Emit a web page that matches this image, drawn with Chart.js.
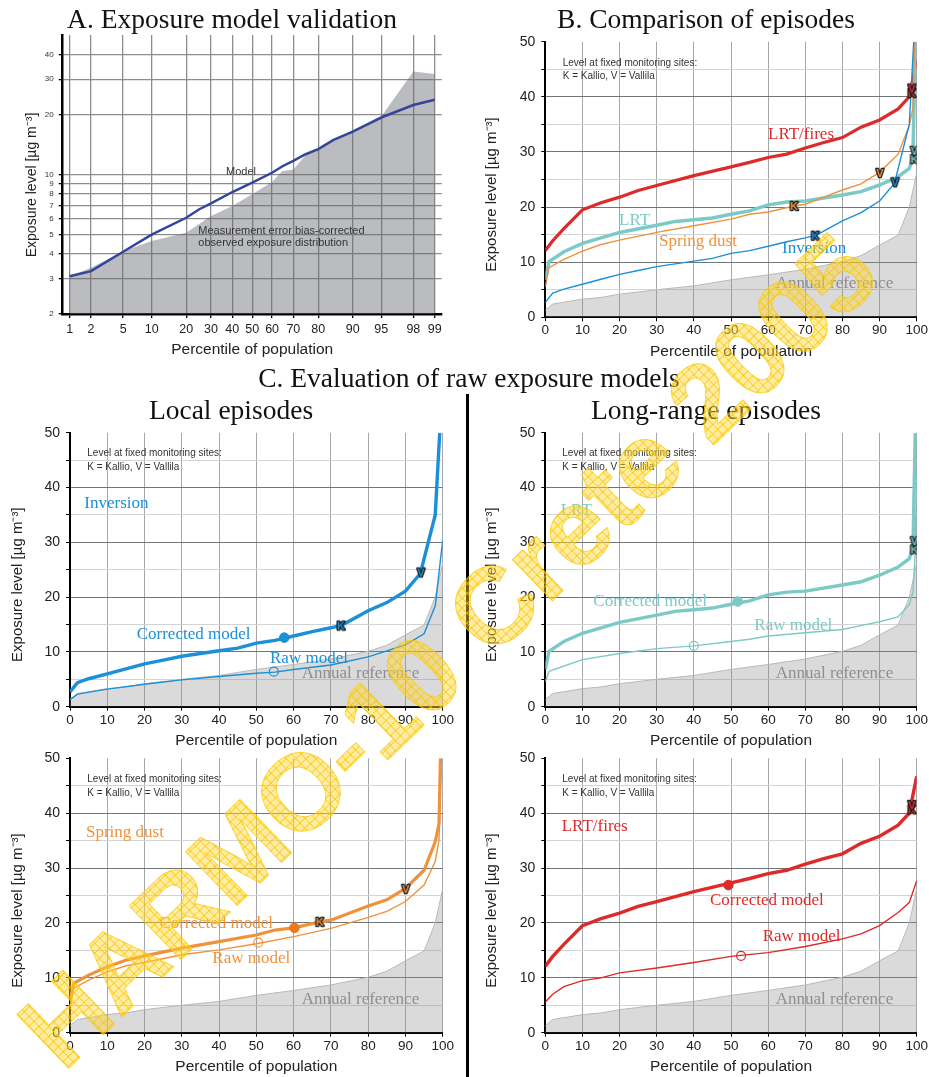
<!DOCTYPE html>
<html>
<head>
<meta charset="utf-8">
<script src="https://cdn.jsdelivr.net/npm/chart.js@4.4.1/dist/chart.umd.min.js"></script>
<style>
body{margin:0;background:#fff}
#page{position:relative;width:929px;height:1077px;overflow:hidden;background:#fff}
#page canvas{position:absolute;left:0;top:0}
.t{position:absolute;white-space:nowrap;line-height:0}
.serif{font-family:"Liberation Serif","Times New Roman",serif}
.sans{font-family:"Liberation Sans",Arial,sans-serif}
#sep{position:absolute;left:466px;top:394px;width:3px;height:683px;background:#000}
#wm{position:absolute;left:446px;top:648px;height:120px;line-height:120px;white-space:nowrap;
  font:bold 108px "Liberation Sans",Arial,sans-serif;transform:translate(-50%,-50%) rotate(-44deg);
  background:repeating-linear-gradient(0deg,rgba(250,195,0,.7) 0 1px,transparent 1px 7px),
             repeating-linear-gradient(90deg,rgba(250,195,0,.7) 0 1px,transparent 1px 7px),
             rgba(255,216,50,.45);
  -webkit-background-clip:text;background-clip:text;color:transparent;-webkit-text-fill-color:transparent;
  -webkit-text-stroke:1px rgba(250,200,0,.6)}
</style>
</head>
<body>
<div id="page">
<canvas id="cA" width="929" height="1077"></canvas>
<canvas id="cB" width="929" height="1077"></canvas>
<canvas id="cInv" width="929" height="1077"></canvas>
<canvas id="cLrt" width="929" height="1077"></canvas>
<canvas id="cDust" width="929" height="1077"></canvas>
<canvas id="cFire" width="929" height="1077"></canvas>
<div id="sep"></div>
</div>
<script>
// ---- panel A: percentiles on a probability axis, log exposure ----
const aTicks = [1, 2, 5, 10, 20, 30, 40, 50, 60, 70, 80, 90, 95, 98, 99];
const aYTicks = [2, 3, 4, 5, 6, 7, 8, 9, 10, 20, 30, 40];
const aObsPct = [1, 2, 5, 10, 20, 30, 40, 50, 60, 65, 70, 75, 80, 90, 95, 98, 99];
const aObs = [3.09, 3.41, 4.13, 4.64, 5.1, 6.19, 6.95, 7.96, 9.18, 10.4, 10.6, 12.4, 13.4, 16.6, 19.5, 32.8, 31.9];
const aModelPct = [1, 2, 5, 10, 20, 25, 30, 40, 50, 60, 65, 70, 75, 80, 85, 90, 95, 98, 99];
const aModel = [3.09, 3.28, 4.1, 5.0, 6.07, 6.7, 7.17, 8.17, 9.1, 10.2, 11.0, 11.7, 12.6, 13.4, 14.9, 16.4, 19.3, 22.3, 23.7];

// ---- annual reference ----
const annualPct = [0, 2, 10, 15, 20, 30, 40, 50, 60, 70, 80, 85, 90, 95, 98, 100];
const annualVal = [1.3, 2.4, 3.3, 3.6, 4.2, 5.0, 5.7, 6.8, 7.7, 8.7, 10.1, 11.2, 13.1, 14.9, 20.0, 26.2];

// ---- LRT/fires ----
const firePct = [0, 2, 5, 10, 15, 20, 25, 30, 40, 50, 55, 60, 65, 70, 75, 80, 85, 90, 95, 98, 100];
const fireVal = [12.1, 13.9, 16.1, 19.5, 20.8, 21.8, 23.0, 23.9, 25.7, 27.3, 28.1, 29.0, 29.6, 30.7, 31.7, 32.6, 34.5, 35.8, 37.8, 40.0, 46.7];
const fireRawPct = [0, 2, 5, 10, 15, 20, 30, 40, 50, 60, 70, 80, 85, 90, 95, 98, 100];
const fireRawVal = [5.6, 7.0, 8.4, 9.5, 10.0, 10.9, 11.8, 12.8, 13.9, 14.6, 15.7, 17.1, 18.0, 19.5, 21.9, 23.7, 27.7];
const fireSitePct = [98.7, 98.7];
const fireSiteVal = [40.7, 41.5];
const fireMedCorr = [49.3, 26.9];
const fireMedRaw = [52.7, 14.0];

// ---- LRT ----
const lrtPct = [0, 1, 5, 10, 20, 30, 35, 40, 45, 50, 55, 60, 65, 70, 80, 85, 90, 95, 98, 99, 99.6];
const lrtVal = [6.8, 10.1, 11.9, 13.4, 15.4, 16.7, 17.4, 17.7, 18.0, 18.7, 19.3, 20.4, 20.9, 21.1, 22.2, 22.8, 24.0, 25.5, 27.0, 29.1, 50];
const lrtRawPct = [0, 1, 2, 10, 20, 30, 40, 50, 55, 60, 70, 80, 85, 90, 95, 98, 99, 99.5, 100];
const lrtRawVal = [4.6, 6.4, 6.7, 8.6, 9.7, 10.6, 11.1, 11.9, 12.3, 12.9, 13.5, 14.1, 14.8, 15.5, 16.4, 18.6, 21.0, 26.8, 42.6];
const lrtSitePct = [99.4, 99.4];
const lrtSiteVal = [28.7, 30.2];
const lrtMedCorr = [51.8, 19.2];
const lrtMedRaw = [40, 11.1];

// ---- spring dust ----
const dustPct = [0, 1, 5, 10, 15, 20, 30, 40, 50, 55, 60, 67, 70, 80, 85, 90, 95, 98, 99, 99.4];
const dustVal = [5.5, 9.0, 10.5, 12.0, 13.2, 14.0, 15.4, 16.6, 17.8, 18.7, 19.1, 20.2, 20.5, 23.1, 24.2, 26.3, 29.6, 34.8, 38.0, 50];
const dustRawPct = [0, 1, 5, 10, 15, 20, 30, 40, 50, 60, 70, 80, 85, 90, 95, 98, 99, 99.6];
const dustRawVal = [4.7, 8.1, 9.6, 11.1, 12.2, 12.8, 14.2, 15.1, 16.2, 17.5, 19.0, 21.0, 22.1, 23.9, 26.9, 31.2, 35.1, 48];
const dustSitePct = [67, 90.1];
const dustSiteVal = [20.2, 26.2];
const dustMedCorr = [60.2, 19.1];
const dustMedRaw = [50.5, 16.4];

// ---- inversion ----
const invPct = [0, 2, 5, 10, 15, 20, 25, 30, 40, 45, 50, 55, 60, 65, 70, 73, 80, 85, 90, 94, 98, 99.2];
const invVal = [2.7, 4.4, 5.1, 6.0, 6.9, 7.8, 8.5, 9.2, 10.2, 10.7, 11.6, 12.1, 12.9, 13.7, 14.4, 14.9, 17.5, 19.0, 21.1, 24.3, 35.0, 50];
const invRawPct = [0, 2, 10, 20, 30, 40, 50, 55, 60, 70, 80, 85, 90, 95, 98, 100];
const invRawVal = [1.3, 2.3, 3.2, 4.1, 4.9, 5.5, 6.1, 6.3, 6.8, 7.6, 9.1, 10.2, 11.3, 13.3, 18.4, 30.4];
const invSitePct = [72.7, 94.2];
const invSiteVal = [14.8, 24.5];
const invMedCorr = [57.5, 12.6];
const invMedRaw = [54.7, 6.4];

const siteLabels = ['K', 'V'];

const BLUE = '#1b8fd8', TEAL = '#7ccac6', ORANGE = '#f0923c', RED = '#dd2a2a', GREYTXT = '#8e8e8e';
const SANS = '"Liberation Sans", Arial, sans-serif';
const W = 929, H = 1077;
const NONE = 'rgba(0,0,0,0)';

Chart.defaults.font.family = SANS;

function probit(p) {
  const a = [-3.969683028665376e+01, 2.209460984245205e+02, -2.759285104469687e+02, 1.383577518672690e+02, -3.066479806614716e+01, 2.506628277459239e+00];
  const b = [-5.447609879822406e+01, 1.615858368580409e+02, -1.556989798598866e+02, 6.680131188771972e+01, -1.328068155288572e+01];
  const c = [-7.784894002430293e-03, -3.223964580411365e-01, -2.400758277161838e+00, -2.549732539343734e+00, 4.374664141464968e+00, 2.938163982698783e+00];
  const d = [7.784695709041462e-03, 3.224671290700398e-01, 2.445134137142996e+00, 3.754408661907416e+00];
  const lo = 0.02425;
  let q, r;
  if (p < lo) {
    q = Math.sqrt(-2 * Math.log(p));
    return (((((c[0]*q+c[1])*q+c[2])*q+c[3])*q+c[4])*q+c[5]) / ((((d[0]*q+d[1])*q+d[2])*q+d[3])*q+1);
  }
  if (p > 1 - lo) {
    q = Math.sqrt(-2 * Math.log(1 - p));
    return -(((((c[0]*q+c[1])*q+c[2])*q+c[3])*q+c[4])*q+c[5]) / ((((d[0]*q+d[1])*q+d[2])*q+d[3])*q+1);
  }
  q = p - 0.5; r = q * q;
  return (((((a[0]*r+a[1])*r+a[2])*r+a[3])*r+a[4])*r+a[5])*q / (((((b[0]*r+b[1])*r+b[2])*r+b[3])*r+b[4])*r+1);
}

function pts(px, vals) { return px.map((p, i) => ({x: p, y: vals[i]})); }

// little outlined K / V letters used as point styles
function letter(ch, color) {
  const c = document.createElement('canvas');
  c.width = 14; c.height = 14;
  const g = c.getContext('2d');
  g.font = 'bold 11px ' + SANS;
  g.textAlign = 'center'; g.textBaseline = 'middle';
  g.lineJoin = 'round';
  g.lineWidth = 2.6; g.strokeStyle = '#1e1e1e';
  g.strokeText(ch, 7, 7.5);
  g.fillStyle = color;
  g.fillText(ch, 7, 7.5);
  return c;
}

function annualSet() {
  return {data: pts(annualPct, annualVal), fill: 'origin', backgroundColor: 'rgba(140,140,140,0.32)',
    borderColor: '#b9b9b9', borderWidth: 1, pointRadius: 0, order: 10};
}
function lineSet(px, vals, color, width) {
  return {data: pts(px, vals), borderColor: color, borderWidth: width, pointRadius: 0, fill: false, order: 5};
}
function siteSet(px, vals, color) {
  return {data: pts(px, vals), showLine: false, pointStyle: siteLabels.map(l => letter(l, color)),
    pointRadius: 6, order: 1};
}
function dotSet(xy, color, open) {
  return {data: [{x: xy[0], y: xy[1]}], showLine: false, pointStyle: 'circle', pointRadius: open ? 4.5 : 4.8,
    pointBackgroundColor: open ? NONE : color, pointBorderColor: color, pointBorderWidth: open ? 1.2 : 1, order: 1};
}

function makeChart(id, box, datasets, xOpts, yOpts) {
  xOpts.afterFit = s => { s.height = box.xh; s.paddingLeft = 0; s.paddingRight = 0; };
  yOpts.afterFit = s => { s.width = box.yw; s.paddingTop = 0; s.paddingBottom = 0; };
  return new Chart(document.getElementById(id), {
    type: 'line',
    data: {datasets},
    options: {
      responsive: false, animation: false, devicePixelRatio: 1,
      layout: {padding: {left: box.l - box.yw, top: box.t, right: W - box.r, bottom: H - box.b - box.xh}},
      plugins: {legend: {display: false}, tooltip: {enabled: false}},
      scales: {x: xOpts, y: yOpts}
    }
  });
}

function pctAxis() {
  return {
    type: 'linear', min: 0, max: 100,
    border: {color: '#000', width: 2},
    grid: {color: c => c.tick.value === 0 ? NONE : '#a4a7ab', lineWidth: 1, tickColor: '#000', tickLength: 4},
    ticks: {stepSize: 10, color: '#222', font: {size: 13.5}, padding: 1, maxRotation: 0, autoSkip: false},
    title: {display: true, text: 'Percentile of population', color: '#222', font: {size: 15.5}, padding: {top: 0, bottom: 0}}
  };
}
function levelAxis() {
  return {
    type: 'linear', min: 0, max: 50,
    border: {color: '#000', width: 2},
    grid: {
      color: c => { const v = c.tick.value; if (v === 0 || v === 50) return NONE; return v % 10 === 0 ? '#70757a' : '#d2d3d5'; },
      lineWidth: 1, tickColor: '#000', tickLength: 4
    },
    ticks: {stepSize: 5, color: '#222', font: {size: 14}, padding: 6, callback: v => v % 10 === 0 ? v : ''},
    title: {display: true, text: 'Exposure level [µg m⁻³]\u2003\u2003', color: '#222', font: {size: 15}, padding: {top: 0, bottom: 0}}
  };
}

// ---- A ----
makeChart('cA', {l: 62.7, r: 441.7, t: 35, b: 314, yw: 39, xh: 45}, [
  {data: pts(aModelPct.map(p => probit(p / 100)), aModel), borderColor: '#35459b', borderWidth: 2.5, pointRadius: 0, fill: false, order: 1},
  {data: pts(aObsPct.map(p => probit(p / 100)), aObs), fill: 'start', backgroundColor: 'rgba(100,102,112,0.44)',
    borderColor: 'rgba(0,0,0,0)', borderWidth: 0, pointRadius: 0, order: 5}
], {
  type: 'linear', min: -2.415, max: 2.415,
  afterBuildTicks: s => { s.ticks = aTicks.map(p => ({value: probit(p / 100)})); },
  border: {color: '#000', width: 2.5},
  grid: {color: '#8d8d8d', lineWidth: 1.3, tickColor: '#000', tickLength: 4},
  ticks: {autoSkip: false, maxRotation: 0, color: '#222', font: {size: 12.5}, padding: 4, callback: (v, i) => String(aTicks[i])},
  title: {display: true, text: 'Percentile of population', color: '#222', font: {size: 15.5}, padding: {top: 0, bottom: 0}}
}, {
  type: 'logarithmic', min: 2, max: 50,
  afterBuildTicks: s => { s.ticks = aYTicks.map(v => ({value: v})); },
  border: {color: '#000', width: 2.5},
  grid: {color: c => c.tick.value === 2 ? NONE : '#8d8d8d', lineWidth: 1.3, tickColor: '#000', tickLength: 4},
  ticks: {color: '#333', font: {size: 8}, padding: 5, callback: v => String(v)},
  title: {display: true, text: 'Exposure level [µg m⁻³]\u2003\u2002', color: '#222', font: {size: 14}, padding: {top: 0, bottom: 0}}
});

// ---- B ----
makeChart('cB', {l: 545.3, r: 916.7, t: 41.7, b: 317.3, yw: 62.6, xh: 43.7}, [
  annualSet(),
  lineSet(invPct, invVal, BLUE, 1.4),
  lineSet(dustPct, dustVal, ORANGE, 1.4),
  lineSet(lrtPct, lrtVal, TEAL, 3.5),
  lineSet(firePct, fireVal, RED, 3.2),
  siteSet(invSitePct, invSiteVal, BLUE),
  siteSet(dustSitePct, dustSiteVal, ORANGE),
  siteSet(lrtSitePct, lrtSiteVal, TEAL),
  siteSet(fireSitePct, fireSiteVal, RED)
], pctAxis(), levelAxis());

// ---- C panels ----
const leftBox = (t, b, xh) => ({l: 70, r: 442.7, t, b, yw: 61.5, xh});
const rightBox = (t, b, xh) => ({l: 545.3, r: 916.7, t, b, yw: 62.6, xh});

makeChart('cInv', leftBox(432.7, 706.7, 43.3), [
  annualSet(),
  lineSet(invRawPct, invRawVal, BLUE, 1.4),
  lineSet(invPct, invVal, BLUE, 3.4),
  siteSet(invSitePct, invSiteVal, BLUE),
  dotSet(invMedCorr, BLUE, false),
  dotSet(invMedRaw, BLUE, true)
], pctAxis(), levelAxis());

makeChart('cLrt', rightBox(432.7, 706.7, 43.3), [
  annualSet(),
  lineSet(lrtRawPct, lrtRawVal, TEAL, 1.4),
  lineSet(lrtPct, lrtVal, TEAL, 3.4),
  siteSet(lrtSitePct, lrtSiteVal, TEAL),
  dotSet(lrtMedCorr, TEAL, false),
  dotSet(lrtMedRaw, TEAL, true)
], pctAxis(), levelAxis());

makeChart('cDust', leftBox(758.3, 1032.7, 43), [
  annualSet(),
  lineSet(dustRawPct, dustRawVal, ORANGE, 1.4),
  lineSet(dustPct, dustVal, ORANGE, 3.2),
  siteSet(dustSitePct, dustSiteVal, ORANGE),
  dotSet(dustMedCorr, '#ec7a1c', false),
  dotSet(dustMedRaw, ORANGE, true)
], pctAxis(), levelAxis());

makeChart('cFire', rightBox(758.3, 1032.7, 43), [
  annualSet(),
  lineSet(fireRawPct, fireRawVal, RED, 1.4),
  lineSet(firePct, fireVal, RED, 3.4),
  siteSet(fireSitePct, fireSiteVal, RED),
  dotSet(fireMedCorr, RED, false),
  dotSet(fireMedRaw, RED, true)
], pctAxis(), levelAxis());

// ---- text ----
const page = document.getElementById('page');
function txt(s, x, y, cls, size, color, center) {
  const d = document.createElement('div');
  d.className = 't ' + cls;
  d.textContent = s;
  d.style.left = x + 'px';
  d.style.top = y + 'px';
  d.style.fontSize = size + 'px';
  d.style.color = color;
  if (center) d.style.transform = 'translateX(-50%)';
  page.appendChild(d);
}
txt('A. Exposure model validation', 232, 19.2, 'serif', 27.5, '#111', true);
txt('B. Comparison of episodes', 706, 19.3, 'serif', 27.5, '#111', true);
txt('C. Evaluation of raw exposure models', 469, 378.3, 'serif', 27.5, '#111', true);
txt('Local episodes', 231, 410, 'serif', 27.5, '#111', true);
txt('Long-range episodes', 706, 410, 'serif', 27.5, '#111', true);

txt('Model', 226, 171.3, 'sans', 11, '#333');
txt('Measurement error bias-corrected', 198.3, 230, 'sans', 11, '#333');
txt('observed exposure distribution', 198.3, 242, 'sans', 11, '#333');

[[562.7, 62.7], [87.3, 453.3], [562.3, 453.3], [87.3, 779.3], [562.3, 779.3]].forEach(p => {
  txt('Level at fixed monitoring sites:', p[0], p[1], 'sans', 10, '#333');
  txt('K = Kallio, V = Vallila', p[0], p[1] + 13.3, 'sans', 10, '#333');
});

txt('LRT/fires', 768, 134.3, 'serif', 17, RED);
txt('LRT', 619, 220, 'serif', 17, TEAL);
txt('Spring dust', 659, 240.7, 'serif', 17, ORANGE);
txt('Inversion', 782, 248.3, 'serif', 17, BLUE);
txt('Annual reference', 775.7, 282.7, 'serif', 17, GREYTXT);

txt('Inversion', 84.3, 502.7, 'serif', 17, BLUE);
txt('Corrected model', 136.7, 634.3, 'serif', 17, BLUE);
txt('Raw model', 270, 658.3, 'serif', 17, BLUE);
txt('Annual reference', 301.7, 672.7, 'serif', 17, GREYTXT);

txt('LRT', 560.7, 510, 'serif', 17, TEAL);
txt('Corrected model', 593.3, 600.7, 'serif', 17, TEAL);
txt('Raw model', 754.3, 625, 'serif', 17, TEAL);
txt('Annual reference', 775.7, 672.7, 'serif', 17, GREYTXT);

txt('Spring dust', 86, 831.7, 'serif', 17, ORANGE);
txt('Corrected model', 159.3, 922.7, 'serif', 17, ORANGE);
txt('Raw model', 212.3, 958.3, 'serif', 17, ORANGE);
txt('Annual reference', 301.7, 998.7, 'serif', 17, GREYTXT);

txt('LRT/fires', 561.7, 826, 'serif', 17, RED);
txt('Corrected model', 710, 900, 'serif', 17, RED);
txt('Raw model', 762.7, 935.7, 'serif', 17, RED);
txt('Annual reference', 775.7, 998.7, 'serif', 17, GREYTXT);

const wm = document.createElement('div');
wm.id = 'wm';
wm.textContent = 'HARMO-10 Crete 2005';
page.appendChild(wm);
</script>
</body>
</html>
